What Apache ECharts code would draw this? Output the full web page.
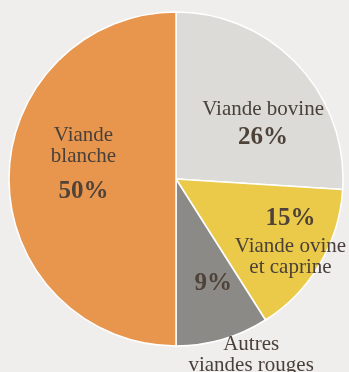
<!DOCTYPE html>
<html>
<head>
<meta charset="utf-8">
<script src="https://cdn.jsdelivr.net/npm/echarts@6/dist/echarts.min.js"></script>
<style>
  html, body { margin: 0; padding: 0; background: #efeeec; }
  #chart { width: 349px; height: 372px; }
</style>
</head>
<body>
<div id="chart"></div>
<script>
// parts of meat consumption, clockwise from 12 o'clock
const names = ['Viande bovine', 'Viande ovine et caprine', 'Autres viandes rouges', 'Viande blanche'];
const values = [26, 15, 9, 50];
const colors = ['#dcdbd8', '#ebca4a', '#8b8a86', '#e8964e'];

const chart = echarts.init(document.getElementById('chart'));

// labels inside the slices
const labelFor = {
  'Viande bovine': { formatter: '{n|Viande bovine}\n{p|26%}', offset: [24, 7] },
  'Viande ovine et caprine': { formatter: '{p|15%}\n{n|Viande ovine}\n{n|et caprine}', offset: [40, 17] },
  'Autres viandes rouges': { formatter: '{p|9%}', offset: [13, 21] },
  'Viande blanche': { formatter: '{n|Viande}\n{n|blanche}\n{b|50%}', offset: [-6, -8] }
};

const rich = {
  n: { fontFamily: 'Liberation Serif', fontSize: 21, lineHeight: 21, color: '#4a4039' },
  p: { fontFamily: 'Liberation Serif', fontSize: 25, fontWeight: 'bold', lineHeight: 34, color: '#4f4238' },
  b: { fontFamily: 'Liberation Serif', fontSize: 25, fontWeight: 'bold', lineHeight: 50, color: '#4f4238' }
};

const base = {
  type: 'pie',
  center: [176, 179],
  radius: [0, 167],
  startAngle: 90,
  clockwise: true,
  avoidLabelOverlap: false,
  labelLine: { show: false }
};

chart.setOption({
  backgroundColor: '#efeeec',
  animation: false,
  series: [
    Object.assign({}, base, {
      itemStyle: { borderColor: '#ffffff', borderWidth: 1.5 },
      label: { show: true, position: 'inside', rich: rich },
      data: names.map((n, i) => ({
        name: n,
        value: values[i],
        itemStyle: { color: colors[i] },
        label: labelFor[n]
      }))
    }),
    // second, invisible pass only to carry the name of the small slice below the pie
    Object.assign({}, base, {
      silent: true,
      itemStyle: { color: 'rgba(0,0,0,0)' },
      label: { show: false, position: 'inside', rich: rich },
      data: names.map((n, i) => ({
        name: n,
        value: values[i],
        label: n === 'Autres viandes rouges'
          ? { show: true, formatter: '{n|Autres}\n{n|viandes rouges}', offset: [51, 93] }
          : { show: false }
      }))
    })
  ]
});
</script>
</body>
</html>
